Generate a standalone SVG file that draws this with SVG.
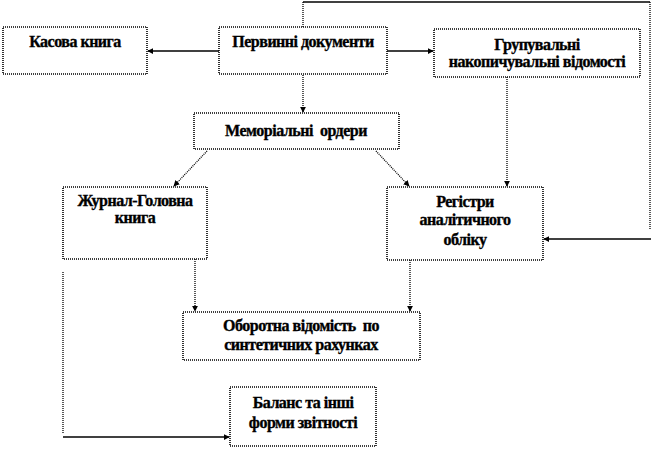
<svg xmlns="http://www.w3.org/2000/svg" width="652" height="449" viewBox="0 0 652 449">
<style>
.box{fill:#fff;stroke:#000;stroke-width:1.6;stroke-dasharray:1 1}
.t{font-family:"Liberation Serif","Times New Roman","DejaVu Serif",serif;font-weight:bold;font-size:16px;fill:#000;stroke:#000;stroke-width:0.35;text-anchor:middle;letter-spacing:-0.5px}
.s{fill:none;stroke:#000;stroke-width:1.3}
.d{fill:none;stroke:#000;stroke-width:1.3;stroke-dasharray:1 1}
</style>
<defs>
<marker id="ah" viewBox="0 0 8 8" refX="7" refY="4" markerWidth="6" markerHeight="6" markerUnits="userSpaceOnUse" orient="auto">
<path d="M0,0 L8,4 L0,8 z" fill="#000"/>
</marker>
</defs>
<rect width="652" height="449" fill="#fff"/>
<g id="connectors">
<line class="s" x1="219" y1="51" x2="148" y2="51" marker-end="url(#ah)"/>
<line class="s" x1="387" y1="51" x2="433" y2="51" marker-end="url(#ah)"/>
<line class="d" x1="303" y1="75" x2="303" y2="112" marker-end="url(#ah)"/>
<line class="d" x1="303" y1="27" x2="303" y2="2"/>
<line class="s" x1="303" y1="2" x2="650" y2="2"/>
<line class="d" x1="650" y1="2" x2="650" y2="230"/>
<line class="s" x1="651" y1="239" x2="544" y2="239" marker-end="url(#ah)"/>
<line class="d" x1="207" y1="151" x2="174" y2="186" marker-end="url(#ah)"/>
<line class="d" x1="376" y1="151" x2="409" y2="186" marker-end="url(#ah)"/>
<line class="d" x1="507" y1="77" x2="507" y2="186" marker-end="url(#ah)"/>
<line class="d" x1="195" y1="259" x2="195" y2="311" marker-end="url(#ah)"/>
<line class="d" x1="410" y1="260" x2="410" y2="311" marker-end="url(#ah)"/>
<line class="d" x1="63" y1="272" x2="63" y2="433"/>
<line class="s" x1="63" y1="437" x2="229" y2="437" marker-end="url(#ah)"/>
</g>
<g id="kasova">
<rect class="box" x="3" y="27" width="144" height="47"/>
<text class="t" x="75" y="47">Касова книга</text>
</g>
<g id="pervynni">
<rect class="box" x="219" y="27" width="168" height="47"/>
<text class="t" x="303" y="47">Первинні документи</text>
</g>
<g id="grupuvalni">
<rect class="box" x="434" y="29" width="206" height="48"/>
<text class="t" x="537" y="50">Групувальні</text>
<text class="t" x="537" y="67">накопичувальні відомості</text>
</g>
<g id="memorialni">
<rect class="box" x="194" y="113" width="205" height="36"/>
<text class="t" x="296" y="136" xml:space="preserve">Меморіальні  ордери</text>
</g>
<g id="zhurnal">
<rect class="box" x="63" y="187" width="144" height="72"/>
<text class="t" x="135" y="206">Журнал-Головна</text>
<text class="t" x="135" y="223">книга</text>
</g>
<g id="reiestry">
<rect class="box" x="387" y="187" width="156" height="73"/>
<text class="t" x="465" y="207">Регістри</text>
<text class="t" x="465" y="225">аналітичного</text>
<text class="t" x="465" y="245">обліку</text>
</g>
<g id="oborotna">
<rect class="box" x="183" y="312" width="237" height="48"/>
<text class="t" x="301" y="331" xml:space="preserve">Оборотна відомість  по</text>
<text class="t" x="301" y="350">синтетичних рахунках</text>
</g>
<g id="balans">
<rect class="box" x="230" y="387" width="146" height="59"/>
<text class="t" x="303" y="408">Баланс та інші</text>
<text class="t" x="303" y="428">форми звітності</text>
</g>
</svg>
